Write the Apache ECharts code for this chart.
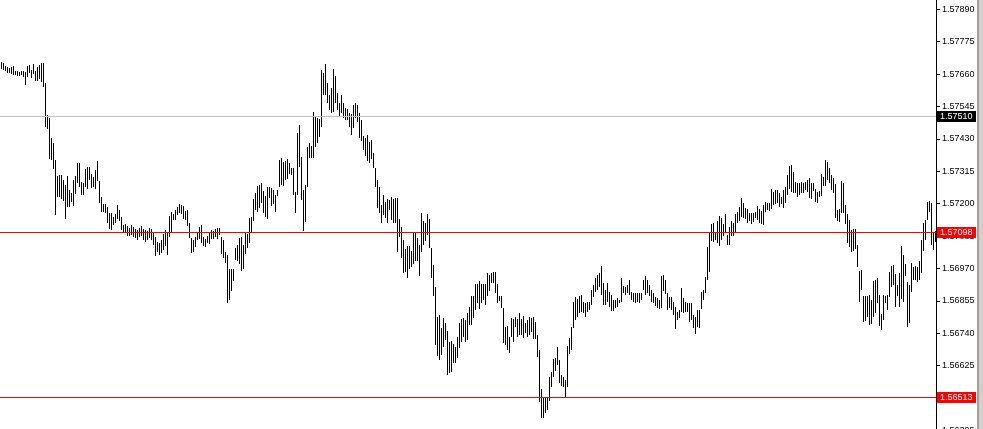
<!DOCTYPE html>
<html><head><meta charset="utf-8">
<script src="https://cdn.jsdelivr.net/npm/echarts@6/dist/echarts.min.js"></script>
<style>html,body{margin:0;padding:0;background:#fff;overflow:hidden}#c{width:983px;height:439px}</style>
</head><body><div id="c"></div><script>
// Bar highs (one per bar, left to right)
const highs = [
1.57702,1.57698,1.57689,1.57684,1.57682,1.57684,1.57689,1.57672,1.57670,1.57667,
1.57670,1.57672,1.57666,1.57689,1.57693,1.57675,1.57696,1.57672,1.57686,1.57693,
1.57700,1.57698,1.57629,1.57515,1.57503,1.57432,1.57414,1.57355,1.57298,1.57301,
1.57303,1.57284,1.57266,1.57298,1.57249,1.57239,1.57284,1.57298,1.57345,1.57345,
1.57277,1.57274,1.57322,1.57331,1.57331,1.57307,1.57294,1.57320,1.57353,1.57279,
1.57223,1.57199,1.57199,1.57189,1.57166,1.57166,1.57154,1.57163,1.57194,1.57178,
1.57152,1.57123,1.57128,1.57121,1.57114,1.57124,1.57117,1.57110,1.57107,1.57114,
1.57121,1.57110,1.57107,1.57103,1.57114,1.57109,1.57097,1.57083,1.57065,1.57059,
1.57071,1.57091,1.57107,1.57095,1.57156,1.57172,1.57163,1.57178,1.57187,1.57199,
1.57196,1.57192,1.57173,1.57178,1.57130,1.57077,1.57071,1.57083,1.57097,1.57116,
1.57124,1.57083,1.57074,1.57085,1.57095,1.57107,1.57104,1.57109,1.57113,1.57114,
1.57083,1.57071,1.57030,1.57018,1.56967,1.56969,1.56969,1.57043,1.57052,1.57077,
1.57083,1.57053,1.57095,1.57092,1.57150,1.57154,1.57215,1.57239,1.57263,1.57265,
1.57274,1.57246,1.57227,1.57260,1.57260,1.57255,1.57249,1.57231,1.57249,1.57355,
1.57361,1.57349,1.57353,1.57358,1.57343,1.57326,1.57326,1.57242,1.57450,1.57479,
1.57367,1.57249,1.57266,1.57402,1.57414,1.57405,1.57527,1.57509,1.57503,1.57500,
1.57675,1.57663,1.57696,1.57627,1.57586,1.57610,1.57677,1.57653,1.57592,1.57558,
1.57586,1.57556,1.57539,1.57535,1.57521,1.57518,1.57550,1.57556,1.57550,1.57521,
1.57497,1.57440,1.57432,1.57444,1.57420,1.57426,1.57379,1.57326,1.57284,1.57260,
1.57195,1.57231,1.57207,1.57215,1.57213,1.57223,1.57215,1.57219,1.57219,1.57145,
1.57118,1.57071,1.57038,1.57050,1.57050,1.57033,1.57095,1.57095,1.57077,1.57053,
1.57166,1.57140,1.57130,1.57163,1.57145,1.57042,1.56982,1.56905,1.56799,1.56805,
1.56758,1.56793,1.56777,1.56749,1.56710,1.56714,1.56702,1.56690,1.56728,1.56775,
1.56790,1.56793,1.56787,1.56811,1.56835,1.56872,1.56872,1.56915,1.56915,1.56927,
1.56915,1.56915,1.56915,1.56955,1.56947,1.56955,1.56959,1.56957,1.56915,1.56872,
1.56872,1.56829,1.56763,1.56766,1.56728,1.56793,1.56790,1.56797,1.56790,1.56811,
1.56790,1.56801,1.56777,1.56787,1.56797,1.56793,1.56799,1.56781,1.56734,1.56681,
1.56541,1.56515,1.56515,1.56515,1.56586,1.56604,1.56648,1.56651,1.56692,1.56645,
1.56592,1.56586,1.56574,1.56695,1.56722,1.56761,1.56852,1.56868,1.56861,1.56872,
1.56876,1.56852,1.56846,1.56852,1.56852,1.56894,1.56911,1.56935,1.56947,1.56955,
1.56979,1.56917,1.56894,1.56917,1.56888,1.56876,1.56858,1.56858,1.56864,1.56858,
1.56935,1.56908,1.56905,1.56911,1.56929,1.56888,1.56882,1.56882,1.56882,1.56884,
1.56884,1.56931,1.56943,1.56929,1.56911,1.56894,1.56884,1.56870,1.56864,1.56858,
1.56943,1.56947,1.56929,1.56882,1.56870,1.56870,1.56852,1.56835,1.56816,1.56823,
1.56900,1.56864,1.56852,1.56846,1.56846,1.56846,1.56805,1.56799,1.56823,1.56823,
1.56888,1.56894,1.56941,1.57045,1.57101,1.57128,1.57132,1.57101,1.57140,1.57156,
1.57148,1.57128,1.57163,1.57089,1.57118,1.57140,1.57132,1.57163,1.57172,1.57187,
1.57219,1.57203,1.57184,1.57180,1.57168,1.57168,1.57166,1.57172,1.57192,1.57180,
1.57175,1.57195,1.57207,1.57201,1.57203,1.57251,1.57242,1.57249,1.57249,1.57239,
1.57225,1.57249,1.57258,1.57302,1.57334,1.57337,1.57314,1.57278,1.57272,1.57272,
1.57278,1.57272,1.57278,1.57284,1.57290,1.57274,1.57272,1.57251,1.57242,1.57246,
1.57307,1.57296,1.57355,1.57349,1.57326,1.57302,1.57290,1.57270,1.57178,1.57180,
1.57282,1.57272,1.57195,1.57163,1.57142,1.57107,1.57109,1.57109,1.57053,1.56962,
1.56965,1.56872,1.56872,1.56872,1.56876,1.56858,1.56927,1.56931,1.56935,1.56876,
1.56808,1.56876,1.56872,1.56876,1.56959,1.56979,1.56982,1.56950,1.56911,1.56955,
1.57050,1.57018,1.56986,1.56923,1.56911,1.56988,1.56976,1.56979,1.56976,1.56998,
1.57071,1.57132,1.57142,1.57207,1.57211,1.57201,1.57097,1.57104
];
// Bar lows (one per bar, left to right)
const lows = [
1.57678,1.57675,1.57671,1.57665,1.57663,1.57659,1.57657,1.57657,1.57653,1.57653,
1.57656,1.57651,1.57620,1.57651,1.57663,1.57646,1.57660,1.57634,1.57636,1.57644,
1.57633,1.57615,1.57473,1.57464,1.57358,1.57355,1.57324,1.57161,1.57224,1.57224,
1.57217,1.57209,1.57147,1.57189,1.57189,1.57206,1.57192,1.57234,1.57274,1.57260,
1.57230,1.57232,1.57258,1.57251,1.57284,1.57256,1.57260,1.57251,1.57282,1.57203,
1.57170,1.57170,1.57168,1.57132,1.57109,1.57107,1.57125,1.57130,1.57145,1.57140,
1.57107,1.57099,1.57096,1.57085,1.57085,1.57089,1.57082,1.57078,1.57071,1.57082,
1.57085,1.57071,1.57064,1.57071,1.57078,1.57071,1.57053,1.57014,1.57030,1.57018,
1.57024,1.57036,1.57050,1.57018,1.57083,1.57101,1.57142,1.57142,1.57160,1.57166,
1.57163,1.57145,1.57142,1.57121,1.57077,1.57024,1.57030,1.57045,1.57071,1.57074,
1.57059,1.57050,1.57045,1.57061,1.57057,1.57074,1.57074,1.57083,1.57074,1.57089,
1.57021,1.57006,1.56988,1.56848,1.56858,1.56891,1.56927,1.57000,1.56995,1.56986,
1.56962,1.56967,1.57021,1.57042,1.57059,1.57095,1.57140,1.57178,1.57171,1.57184,
1.57201,1.57166,1.57154,1.57145,1.57219,1.57192,1.57199,1.57171,1.57227,1.57260,
1.57266,1.57263,1.57284,1.57287,1.57307,1.57302,1.57231,1.57166,1.57231,1.57331,
1.57213,1.57104,1.57136,1.57260,1.57361,1.57361,1.57361,1.57402,1.57414,1.57436,
1.57473,1.57586,1.57586,1.57556,1.57533,1.57521,1.57527,1.57556,1.57533,1.57509,
1.57521,1.57503,1.57497,1.57497,1.57473,1.57444,1.57468,1.57503,1.57491,1.57432,
1.57424,1.57391,1.57369,1.57353,1.57343,1.57358,1.57326,1.57260,1.57184,1.57166,
1.57130,1.57160,1.57148,1.57130,1.57178,1.57142,1.57130,1.57130,1.57030,1.57083,
1.57006,1.56955,1.56959,1.56935,1.56967,1.56976,1.56986,1.56998,1.56998,1.56943,
1.57030,1.57053,1.57069,1.57089,1.57042,1.56935,1.56872,1.56698,1.56659,1.56645,
1.56663,1.56692,1.56716,1.56592,1.56598,1.56604,1.56633,1.56635,1.56651,1.56687,
1.56710,1.56728,1.56710,1.56716,1.56769,1.56769,1.56793,1.56823,1.56846,1.56825,
1.56846,1.56858,1.56840,1.56872,1.56892,1.56919,1.56917,1.56884,1.56848,1.56856,
1.56829,1.56704,1.56698,1.56681,1.56669,1.56728,1.56710,1.56763,1.56726,1.56734,
1.56734,1.56722,1.56742,1.56728,1.56734,1.56745,1.56719,1.56719,1.56655,1.56498,
1.56438,1.56438,1.56456,1.56468,1.56501,1.56550,1.56586,1.56607,1.56627,1.56564,
1.56553,1.56550,1.56515,1.56550,1.56666,1.56681,1.56758,1.56787,1.56799,1.56811,
1.56817,1.56811,1.56799,1.56817,1.56823,1.56840,1.56870,1.56888,1.56894,1.56903,
1.56876,1.56840,1.56840,1.56852,1.56835,1.56820,1.56820,1.56829,1.56832,1.56846,
1.56852,1.56882,1.56876,1.56882,1.56876,1.56858,1.56852,1.56846,1.56852,1.56848,
1.56858,1.56894,1.56876,1.56882,1.56872,1.56852,1.56846,1.56837,1.56829,1.56826,
1.56829,1.56892,1.56879,1.56823,1.56829,1.56823,1.56805,1.56754,1.56787,1.56793,
1.56816,1.56811,1.56816,1.56816,1.56781,1.56787,1.56758,1.56737,1.56761,1.56758,
1.56825,1.56858,1.56882,1.56931,1.56959,1.57069,1.57065,1.57071,1.57059,1.57050,
1.57071,1.57085,1.57097,1.57053,1.57053,1.57085,1.57085,1.57101,1.57132,1.57140,
1.57154,1.57148,1.57145,1.57132,1.57140,1.57128,1.57136,1.57148,1.57142,1.57130,
1.57128,1.57124,1.57172,1.57178,1.57175,1.57180,1.57195,1.57199,1.57203,1.57189,
1.57199,1.57184,1.57203,1.57231,1.57251,1.57242,1.57237,1.57239,1.57224,1.57231,
1.57237,1.57237,1.57249,1.57242,1.57219,1.57215,1.57246,1.57207,1.57201,1.57223,
1.57227,1.57263,1.57263,1.57284,1.57272,1.57249,1.57237,1.57148,1.57140,1.57136,
1.57166,1.57166,1.57128,1.57060,1.57048,1.57030,1.57033,1.57038,1.56974,1.56852,
1.56894,1.56781,1.56785,1.56799,1.56769,1.56773,1.56799,1.56813,1.56846,1.56766,
1.56752,1.56787,1.56846,1.56823,1.56870,1.56903,1.56911,1.56832,1.56872,1.56832,
1.56861,1.56852,1.56943,1.56763,1.56777,1.56888,1.56929,1.56929,1.56923,1.56931,
1.56955,1.57033,1.57071,1.57142,1.57172,1.57053,1.57036,1.57065
];
// Price scale tick labels
const priceTicks = [1.57890,1.57775,1.57660,1.57545,1.57430,1.57315,1.57200,1.57085,1.56970,1.56855,1.56740,1.56625,1.56510,1.56395];
// Horizontal price levels
const levels = [1.57510, 1.57098, 1.56513];
const axisMin = 1.56365;
const axisMax = 1.57923;

const levelStyles = [
  {line: '#c0c0c0', bg: '#000000'},
  {line: '#ff0000', bg: '#ff0000'},
  {line: '#ff0000', bg: '#ff0000'}
];
const bars = highs.map((_, i) => String(i + 1));
const chart = echarts.init(document.getElementById('c'), null, {renderer: 'canvas'});
const fontFam = '"Liberation Sans", Arial, sans-serif';
chart.setOption({
  animation: false,
  backgroundColor: '#ffffff',
  grid: {left: 0, right: 47, top: 0, bottom: 0, containLabel: false},
  xAxis: {type: 'category', data: bars, show: false, boundaryGap: true},
  yAxis: {
    type: 'value', position: 'right', min: axisMin, max: axisMax,
    splitLine: {show: false},
    axisLine: {show: true, lineStyle: {color: '#000', width: 1}},
    axisTick: {show: true, length: 4, lineStyle: {color: '#000'}, customValues: priceTicks},
    axisLabel: {show: true, customValues: priceTicks, formatter: v => v.toFixed(5), color: '#000',
      fontSize: 9, fontFamily: fontFam, margin: 6}
  },
  graphic: [
    {type: 'rect', shape: {x: 977, y: 0, width: 2, height: 439}, style: {fill: '#a0a0a0'}, z: 100},
    {type: 'rect', shape: {x: 979, y: 0, width: 4, height: 439}, style: {fill: '#d4d0c8'}, z: 100}
  ],
  series: [
    {
      type: 'custom',
      data: highs.map((h, i) => [i, lows[i], h]),
      encode: {x: 0, y: [1, 2]},
      clip: true,
      z: 3,
      renderItem: (params, api) => {
        const lo = api.coord([api.value(0), api.value(1)]);
        const hi = api.coord([api.value(0), api.value(2)]);
        const x = Math.round(lo[0]);
        const y1 = Math.round(hi[1]);
        const y2 = Math.round(lo[1]);
        return {type: 'rect', shape: {x: x, y: y1, width: 1, height: Math.max(1, y2 - y1)}, style: {fill: '#000'}};
      }
    },
    {
      type: 'custom',
      data: levels.map(v => [0, v]),
      encode: {x: 0, y: 1},
      clip: false,
      silent: true,
      z: 10,
      renderItem: (params, api) => {
        const cs = params.coordSys;
        const v = api.value(1);
        const y = Math.round(api.coord([0, v])[1]) + 0.5;
        const st = levelStyles[params.dataIndex];
        const right = cs.x + cs.width;
        return {type: 'group', children: [
          {type: 'line', shape: {x1: cs.x, y1: y, x2: right, y2: y}, style: {stroke: st.line, lineWidth: 1}},
          {type: 'rect', shape: {x: right + 1, y: Math.round(y) - 6, width: 39, height: 11}, style: {fill: st.bg}},
          {type: 'text', style: {text: v.toFixed(5), x: right + 4, y: y, fill: '#fff',
            font: '9px "Liberation Sans", Arial, sans-serif', verticalAlign: 'middle', align: 'left'}}
        ]};
      }
    }
  ]
});
</script></body></html>
